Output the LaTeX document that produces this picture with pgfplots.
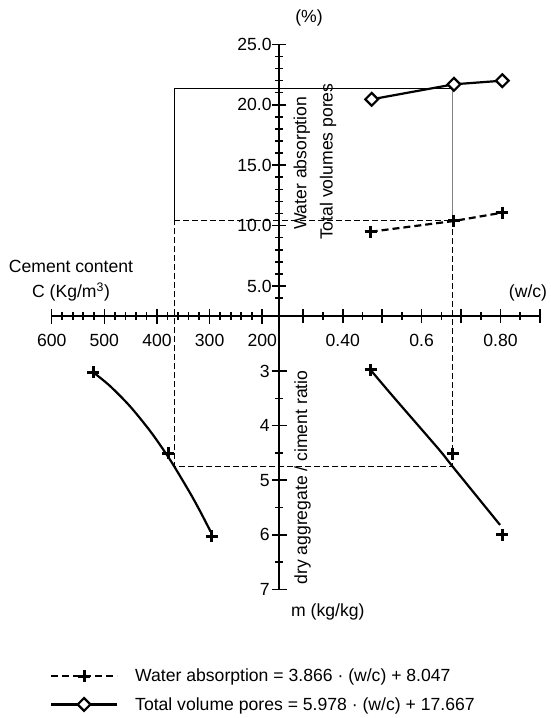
\documentclass[border=0pt]{standalone}
\usepackage{fontspec}
\setmainfont{Liberation Sans}
\usepackage{pgfplots}
\pgfplotsset{compat=1.18}
\newcommand\fs{\fontsize{17.6}{21}\selectfont}
\pgfplotsset{nomo/.style={scale only axis, clip=false,
  axis line style={-, line width=1.7pt},
  every tick/.append style={black, line width=1.6pt},
  major tick style={black, line width=1.6pt},
  minor tick style={black, line width=1.6pt},
  tick align=center, major tick length=15pt, minor tick length=8pt,
  tick label style={font=\fs, inner sep=0pt},
  /pgf/number format/assume math mode=true}}
\begin{document}
\begin{tikzpicture}[font=\fs]
\useasboundingbox (0pt,0pt) rectangle (550pt,-718pt);

% top-left: cement content scale (C, %)
\begin{axis}[nomo, at={(279.3pt,-316pt)}, anchor=south east,
  width=227.6pt, height=271.7pt,
  x dir=reverse, xmin=167.7, xmax=600, ymin=2.517, ymax=25,
  axis x line*=bottom, axis y line=none,
  xtick={200,300,400,500,600},
  xticklabels={\mbox{200},\mbox{300},\mbox{400},\mbox{500},\mbox{600}},
  minor xtick={220,240,260,280,320,340,360,380,420,440,460,480,520,540,560,580},
  xticklabel style={anchor=north, yshift=-11pt}]
\end{axis}

% bottom-left: C vs m
\begin{axis}[nomo, at={(279.3pt,-316pt)}, anchor=north east,
  width=227.6pt, height=273.3pt,
  x dir=reverse, xmin=167.7, xmax=600, y dir=reverse, ymin=1.992, ymax=7,
  axis lines=none]
\addplot[black, line width=2.2pt, smooth] coordinates {
  (521.0,3.024) (489.3,3.274) (451.3,3.646) (413.3,4.096) (384.8,4.486)
  (367.7,4.741) (337.3,5.233) (318.3,5.566) (298.0,5.945)};
\addplot[only marks, mark=+, mark size=6pt, mark options={line width=3pt}]
  coordinates {(521.0,3.02) (378.5,4.51) (296.1,6.03)};
\end{axis}

% bottom-right: w/c vs m
\begin{axis}[nomo, at={(279.3pt,-316pt)}, anchor=north west,
  width=260.7pt, height=273.3pt,
  xmin=0.2392, xmax=0.9, y dir=reverse, ymin=1.992, ymax=7,
  axis x line=none, axis y line*=left,
  ytick={3,4,5,6,7}, yticklabels={\mbox{3},\mbox{4},\mbox{5},\mbox{6},\mbox{7}},
  minor ytick={3.5,4.5,5.5,6.5},
  yticklabel style={anchor=east, xshift=-2pt}]
\addplot[black, line width=2.2pt, smooth] coordinates {
  (0.4706,2.98) (0.528,3.47) (0.643,4.43) (0.6785,4.75) (0.7987,5.82)};
\addplot[only marks, mark=+, mark size=6pt, mark options={line width=3pt}]
  coordinates {(0.4706,2.98) (0.6785,4.52) (0.8047,6.0)};
\end{axis}

% top-right: w/c vs %
\begin{axis}[nomo, at={(279.3pt,-316pt)}, anchor=south west,
  width=260.7pt, height=271.7pt,
  xmin=0.2392, xmax=0.9, ymin=2.517, ymax=25,
  axis x line*=bottom, axis y line*=left,
  major tick length=14pt,
  xtick={0.3,0.4,0.5,0.6,0.7,0.8,0.9},
  xticklabels={,\mbox{0.40},,\mbox{0.6},,\mbox{0.80},},
  minor xtick={0.35,0.45,0.55,0.65,0.75,0.85},
  ytick={5,10,15,20,25},
  yticklabels={\mbox{5.0},\mbox{10.0},\mbox{15.0},\mbox{20.0},\mbox{25.0}},
  minor ytick={4,6,7,8,9,11,12,13,14,16,17,18,19,21,22,23,24},
  xticklabel style={anchor=north, yshift=-11pt},
  yticklabel style={anchor=east, xshift=-0.5pt},
  legend style={at={(axis description cs:-0.8796,-1.292)}, anchor=north west,
    draw=none, fill=none, inner sep=0pt, outer sep=0pt, row sep=10pt,
    font=\fs, cells={anchor=west},
    /tikz/every odd column/.append style={column sep=15pt}},
  legend cell align=left,
  legend image code/.code={\draw[mark repeat=2,mark phase=2,#1]
    plot coordinates {(0pt,0pt)(33pt,0pt)(66pt,0pt)};}]
% guide lines
\addplot[forget plot, black, line width=0.9pt] coordinates {(-0.0278,10.461) (-0.0278,21.359) (0.6787,21.359)};
\addplot[forget plot, gray, line width=0.9pt] coordinates {(0.6787,21.359) (0.6787,10.461)};
\addplot[forget plot, black, line width=0.9pt, dash pattern=on 6pt off 3pt] coordinates {
  (-0.0278,10.461) (0.6787,10.461) (0.6787,-9.894) (-0.0278,-9.894) (-0.0278,10.461)};
% data
\addplot[black, line width=2.2pt, dash pattern=on 7pt off 4pt, mark=+, mark size=6pt,
  mark options={solid, line width=3pt}]
  coordinates {(0.4708,9.49) (0.6818,10.38) (0.8045,11.07)};
\addlegendentry{Water absorption = 3.866 · (w/c) + 8.047}
\addplot[black, line width=2.2pt, mark=square*, mark size=4.5pt,
  mark options={solid, fill=white, rotate=45, line width=2.2pt}]
  coordinates {(0.4734,20.45) (0.6818,21.69) (0.8045,21.99)};
\addlegendentry{Total volume pores = 5.978 · (w/c) + 17.667}
\end{axis}

% titles
\node at (309pt,-18.3pt) {(\%)};
\node at (71pt,-266.7pt) {Cement content};
\node at (71pt,-291.7pt) {C (Kg/m\textsuperscript{3})};
\node at (528pt,-293.3pt) {(w/c)};
\node[anchor=west, inner sep=0pt] at (291pt,-611.7pt) {m (kg/kg)};
\node[rotate=90] at (301.7pt,-163.3pt) {Water absorption};
\node[rotate=90] at (328pt,-161.7pt) {Total volumes pores};
\node[rotate=90] at (302.5pt,-477.5pt) {dry aggregate / ciment ratio};
\end{tikzpicture}
\end{document}
